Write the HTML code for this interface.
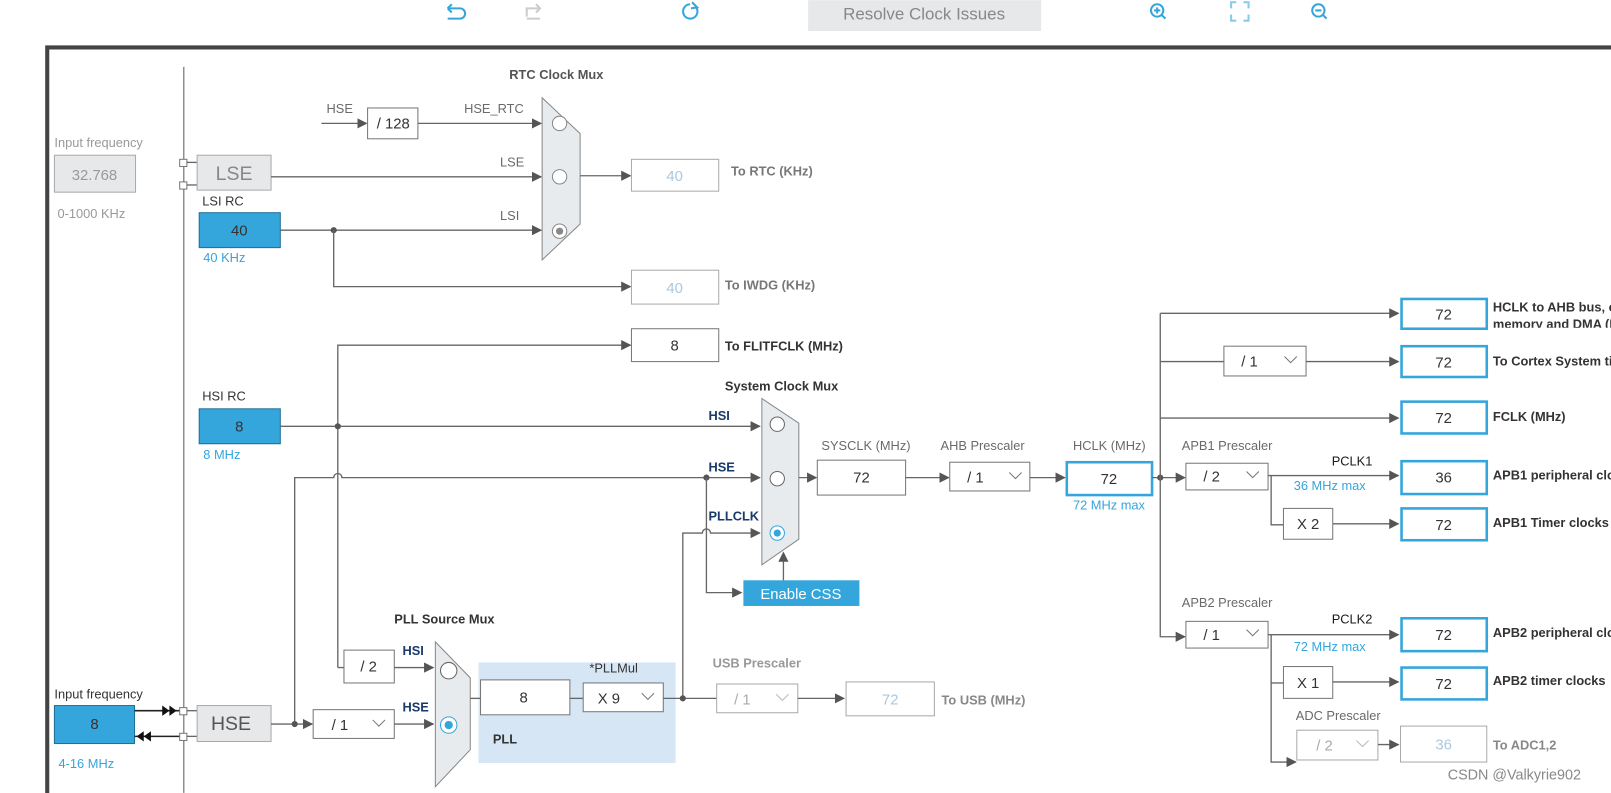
<!DOCTYPE html>
<html><head><meta charset="utf-8"><style>
html,body{margin:0;padding:0;background:#fff;width:1611px;height:793px;overflow:hidden}
svg{display:block}
text{font-family:"Liberation Sans",sans-serif}
.l{font-size:12.5px;fill:#6a6a6a}
.b{font-size:12.5px;fill:#333;font-weight:bold}
.g{font-size:12.5px;fill:#999}
.bl{font-size:12.5px;fill:#34a6dc}
.v{font-size:14.5px;fill:#333;text-anchor:middle}
.vg{font-size:14.5px;fill:#a9c8e0;text-anchor:middle}
.ln{stroke:#666;stroke-width:1.3;fill:none}
.bx{fill:#fff;stroke:#777;stroke-width:1}
.bb{fill:#fff;stroke:#34a6dc;stroke-width:2.5}
.gb{fill:#fff;stroke:#aaa;stroke-width:1}
</style></head><body>
<svg width="1611" height="793" viewBox="0 0 1569 772" xmlns="http://www.w3.org/2000/svg">
<defs>
<marker id="a" markerWidth="10" markerHeight="10" refX="9" refY="5" orient="auto" markerUnits="userSpaceOnUse"><path d="M0,0 L10,5 L0,10 Z" fill="#555"/></marker>
</defs>
<g stroke="#34a6dc" stroke-width="2" fill="none">
<path d="M436,8 h12 a5,5 0 0 1 0,10 h-12 M436,8 l4,-4 M436,8 l4,4"/>
<path d="M672,4 a7,7 0 1 0 6,3" /><path d="M674,2 l5,5 l-6,1"/>
<circle cx="1127" cy="10" r="6"/><path d="M1131,14 l4,4 M1124,10 h6 M1127,7 v6"/>
<circle cx="1284" cy="10" r="6"/><path d="M1288,14 l4,4 M1281,10 h6"/>
<path d="M1199,8 v-6 h5 M1211,2 h5 v6 M1216,14 v6 h-5 M1204,20 h-5 v-6" stroke="#8cc8ea"/>
</g>
<path d="M513,16 v-8 h13 M522,4 l4,4 l-4,4 M513,18 h13" stroke="#ccc" stroke-width="2" fill="none"/>
<rect x="787" y="0" width="227" height="30" fill="#e6e8ea"/>
<text x="900" y="19" font-size="16.5" fill="#888" text-anchor="middle">Resolve Clock Issues</text>
<path d="M46,793 V46 H1569" stroke="#444" stroke-width="4" fill="none"/>
<line x1="179" y1="65" x2="179" y2="772" stroke="#777" stroke-width="1.2"/>

<text x="53" y="143" class="g">Input frequency</text>
<rect x="53" y="151" width="79" height="36" fill="#e6e8ea" stroke="#aaa"/>
<text x="92" y="175" class="v" style="fill:#999">32.768</text>
<text x="56" y="212" class="g">0-1000 KHz</text>
<rect x="175" y="155" width="7" height="7" fill="#fff" stroke="#777"/>
<rect x="175" y="177" width="7" height="7" fill="#fff" stroke="#777"/>
<line x1="182" y1="158" x2="192" y2="158" class="ln"/><line x1="182" y1="180" x2="192" y2="180" class="ln"/>
<rect x="192" y="151" width="72" height="34" fill="#e6e8ea" stroke="#aaa"/>
<text x="228" y="175" font-size="19" fill="#888" text-anchor="middle">LSE</text>

<text x="318" y="110" class="l">HSE</text>
<line x1="313" y1="120" x2="357" y2="120" class="ln" marker-end="url(#a)"/>
<rect x="358" y="105" width="49" height="30" class="bx"/>
<text x="383" y="125" class="v">/ 128</text>
<text x="452" y="110" class="l">HSE_RTC</text>
<line x1="407" y1="120" x2="527" y2="120" class="ln" marker-end="url(#a)"/>
<text x="487" y="162" class="l">LSE</text>
<line x1="264" y1="172" x2="527" y2="172" class="ln" marker-end="url(#a)"/>
<text x="487" y="214" class="l">LSI</text>
<text x="496" y="77" class="b" style="fill:#555">RTC Clock Mux</text>
<polygon points="528,95 565,130 565,218 528,253" fill="#e8ebee" stroke="#888"/>
<circle cx="545" cy="120" r="7" fill="#fff" stroke="#888"/>
<circle cx="545" cy="172" r="7" fill="#fff" stroke="#888"/>
<circle cx="545" cy="225" r="7" fill="#fff" stroke="#888"/><circle cx="545" cy="225" r="3.5" fill="#888"/>

<text x="197" y="200" style="font-size:12.5px;fill:#333">LSI RC</text>
<rect x="194" y="207" width="79" height="34" fill="#34a6dc" stroke="#1f6f98"/>
<text x="233" y="229" class="v">40</text>
<text x="198" y="255" class="bl">40 KHz</text>
<line x1="273" y1="224" x2="527" y2="224" class="ln" marker-end="url(#a)"/>
<circle cx="325" cy="224" r="3" fill="#555"/>
<path d="M325,224 V279 H614" class="ln" marker-end="url(#a)"/>
<line x1="565" y1="171" x2="614" y2="171" class="ln" marker-end="url(#a)"/>
<rect x="615" y="155" width="85" height="31" class="gb"/>
<text x="657" y="176" class="vg">40</text>
<text x="712" y="171" class="b" style="fill:#777">To RTC (KHz)</text>
<rect x="615" y="263" width="85" height="33" class="gb"/>
<text x="657" y="285" class="vg">40</text>
<text x="706" y="282" class="b" style="fill:#777">To IWDG (KHz)</text>

<rect x="615" y="320" width="85" height="32" class="bx"/>
<text x="657" y="341" class="v">8</text>
<text x="706" y="341" class="b">To FLITFCLK (MHz)</text>
<path d="M329,650 V336 H614" class="ln" marker-end="url(#a)"/>
<text x="197" y="390" style="font-size:12.5px;fill:#333">HSI RC</text>
<rect x="194" y="398" width="79" height="34" fill="#34a6dc" stroke="#1f6f98"/>
<text x="233" y="420" class="v">8</text>
<text x="198" y="447" class="bl">8 MHz</text>
<line x1="273" y1="415" x2="740" y2="415" class="ln" marker-end="url(#a)"/>
<circle cx="329" cy="415" r="3" fill="#555"/>
<path d="M287,705 V465 H325 a4,4 0 0 1 8,0 H740" class="ln" marker-end="url(#a)"/>
<text x="690" y="409" class="b" style="fill:#1a3a6a">HSI</text>
<text x="690" y="459" class="b" style="fill:#1a3a6a">HSE</text>
<text x="690" y="507" class="b" style="fill:#1a3a6a">PLLCLK</text>
<text x="706" y="380" class="b">System Clock Mux</text>
<polygon points="742,388 778,412 778,525 742,550" fill="#e8ebee" stroke="#888"/>
<circle cx="757" cy="413" r="7" fill="#fff" stroke="#666"/>
<circle cx="757" cy="466" r="7" fill="#fff" stroke="#666"/>
<circle cx="757" cy="519" r="7" fill="#fff" stroke="#34a6dc"/><circle cx="757" cy="519" r="3.5" fill="#34a6dc"/>
<path d="M665,680 V519 H684 a4,4 0 0 1 8,0 H740" class="ln" marker-end="url(#a)"/>
<circle cx="688" cy="465" r="3" fill="#555"/>
<path d="M688,465 V577 H722" class="ln" marker-end="url(#a)"/>
<rect x="724" y="565" width="113" height="25" fill="#34a6dc"/>
<text x="780" y="583" font-size="14.5" fill="#fff" text-anchor="middle">Enable CSS</text>
<line x1="763" y1="565" x2="763" y2="538" class="ln" marker-end="url(#a)"/>

<line x1="778" y1="465" x2="795" y2="465" class="ln" marker-end="url(#a)"/>
<text x="800" y="438" class="l">SYSCLK (MHz)</text>
<rect x="796" y="448" width="86" height="34" class="bx"/>
<text x="839" y="470" class="v">72</text>
<line x1="882" y1="465" x2="924" y2="465" class="ln" marker-end="url(#a)"/>
<text x="916" y="438" class="l">AHB Prescaler</text>
<rect x="925" y="450" width="78" height="28" class="bx"/>
<text x="950" y="470" class="v">/ 1</text><path d="M983,460 l6,6 l6,-6" stroke="#777" fill="none"/>
<line x1="1003" y1="465" x2="1037" y2="465" class="ln" marker-end="url(#a)"/>
<text x="1045" y="438" class="l">HCLK (MHz)</text>
<rect x="1039" y="450" width="83" height="32" class="bb"/>
<text x="1080" y="471" class="v">72</text>
<text x="1045" y="496" class="bl">72 MHz max</text>

<line x1="1122" y1="465" x2="1154" y2="465" class="ln" marker-end="url(#a)"/>
<circle cx="1130" cy="465" r="3" fill="#555"/>
<path d="M1130,305 V620 H1154" class="ln" marker-end="url(#a)"/>
<line x1="1130" y1="305" x2="1362" y2="305" class="ln" marker-end="url(#a)"/>
<line x1="1130" y1="352" x2="1192" y2="352" class="ln"/>
<rect x="1192" y="337" width="80" height="29" class="bx"/>
<text x="1217" y="357" class="v">/ 1</text><path d="M1251,347 l6,6 l6,-6" stroke="#777" fill="none"/>
<line x1="1272" y1="352" x2="1362" y2="352" class="ln" marker-end="url(#a)"/>
<line x1="1130" y1="407" x2="1362" y2="407" class="ln" marker-end="url(#a)"/>

<rect x="1365" y="291" width="83" height="29" class="bb"/><text x="1406" y="311" class="v">72</text>
<rect x="1365" y="337" width="83" height="30" class="bb"/><text x="1406" y="358" class="v">72</text>
<rect x="1365" y="391" width="83" height="31" class="bb"/><text x="1406" y="412" class="v">72</text>
<text x="1454" y="303" class="b">HCLK to AHB bus, core,</text>
<svg x="1450" y="305" width="130" height="14" overflow="hidden"><text x="4" y="15" class="b">memory and DMA (MHz)</text></svg>
<text x="1454" y="356" class="b">To Cortex System timer</text>
<text x="1454" y="410" class="b">FCLK (MHz)</text>

<text x="1151" y="438" class="l">APB1 Prescaler</text>
<rect x="1155" y="451" width="80" height="26" class="bx"/>
<text x="1180" y="469" class="v">/ 2</text><path d="M1214,459 l6,6 l6,-6" stroke="#777" fill="none"/>
<line x1="1235" y1="463" x2="1362" y2="463" class="ln" marker-end="url(#a)"/>
<text x="1297" y="453" style="font-size:12.5px;fill:#1a1a1a">PCLK1</text>
<text x="1260" y="477" class="bl">36 MHz max</text>
<rect x="1365" y="449" width="83" height="32" class="bb"/><text x="1406" y="470" class="v">36</text>
<text x="1454" y="467" class="b">APB1 peripheral clocks</text>
<path d="M1238,463 V511 H1250" class="ln"/>
<rect x="1250" y="495" width="48" height="30" class="bx"/><text x="1274" y="515" class="v">X 2</text>
<line x1="1298" y1="510" x2="1362" y2="510" class="ln" marker-end="url(#a)"/>
<rect x="1365" y="495" width="83" height="31" class="bb"/><text x="1406" y="516" class="v">72</text>
<text x="1454" y="513" class="b">APB1 Timer clocks</text>

<text x="1151" y="591" class="l">APB2 Prescaler</text>
<rect x="1155" y="605" width="80" height="26" class="bx"/>
<text x="1180" y="623" class="v">/ 1</text><path d="M1214,613 l6,6 l6,-6" stroke="#777" fill="none"/>
<line x1="1235" y1="618" x2="1362" y2="618" class="ln" marker-end="url(#a)"/>
<text x="1297" y="607" style="font-size:12.5px;fill:#1a1a1a">PCLK2</text>
<text x="1260" y="634" class="bl">72 MHz max</text>
<rect x="1365" y="602" width="83" height="32" class="bb"/><text x="1406" y="623" class="v">72</text>
<text x="1454" y="620" class="b">APB2 peripheral clocks</text>
<path d="M1238,618 V742 H1262" class="ln" marker-end="url(#a)"/>
<line x1="1238" y1="665" x2="1250" y2="665" class="ln"/>
<rect x="1250" y="649" width="48" height="31" class="bx"/><text x="1274" y="670" class="v">X 1</text>
<line x1="1298" y1="664" x2="1362" y2="664" class="ln" marker-end="url(#a)"/>
<rect x="1365" y="650" width="83" height="31" class="bb"/><text x="1406" y="671" class="v">72</text>
<text x="1454" y="667" class="b">APB2 timer clocks</text>
<text x="1262" y="701" class="l">ADC Prescaler</text>
<rect x="1263" y="711" width="79" height="29" class="gb"/>
<text x="1290" y="731" class="vg" style="fill:#aaa">/ 2</text><path d="M1321,721 l6,6 l6,-6" stroke="#bbb" fill="none"/>
<line x1="1342" y1="725" x2="1362" y2="725" class="ln" marker-end="url(#a)"/>
<rect x="1364" y="707" width="84" height="35" class="gb"/><text x="1406" y="730" class="vg">36</text>
<text x="1454" y="730" class="b" style="fill:#888">To ADC1,2</text>
<text x="1410" y="759" font-size="14" fill="#888">CSDN @Valkyrie902</text>

<text x="53" y="680" style="font-size:12.5px;fill:#333">Input frequency</text>
<rect x="53" y="687" width="78" height="37" fill="#34a6dc" stroke="#1f6f98"/>
<text x="92" y="710" class="v">8</text>
<text x="57" y="748" class="bl">4-16 MHz</text>
<line x1="131" y1="692" x2="175" y2="692" stroke="#222" stroke-width="1.5"/>
<path d="M158,687 l7,5 l-7,5Z M165,687 l7,5 l-7,5Z" fill="#111"/>
<line x1="131" y1="717" x2="175" y2="717" stroke="#222" stroke-width="1.5"/>
<path d="M140,712 l-7,5 l7,5Z M147,712 l-7,5 l7,5Z" fill="#111"/>
<rect x="175" y="689" width="7" height="7" fill="#fff" stroke="#777"/>
<rect x="175" y="714" width="7" height="7" fill="#fff" stroke="#777"/>
<line x1="182" y1="692" x2="192" y2="692" class="ln"/><line x1="182" y1="717" x2="192" y2="717" class="ln"/>
<rect x="192" y="687" width="72" height="35" fill="#e6e8ea" stroke="#aaa"/>
<text x="225" y="711" font-size="19" fill="#555" text-anchor="middle">HSE</text>
<line x1="264" y1="705" x2="304" y2="705" class="ln" marker-end="url(#a)"/>
<circle cx="287" cy="705" r="3" fill="#555"/>
<rect x="305" y="691" width="79" height="28" class="bx"/>
<text x="331" y="711" class="v">/ 1</text><path d="M363,701 l6,6 l6,-6" stroke="#777" fill="none"/>
<path d="M329,650 H335" class="ln"/>
<rect x="335" y="633" width="49" height="32" class="bx"/><text x="359" y="654" class="v">/ 2</text>
<line x1="384" y1="650" x2="422" y2="650" class="ln" marker-end="url(#a)"/>
<line x1="384" y1="705" x2="422" y2="705" class="ln" marker-end="url(#a)"/>
<text x="392" y="638" class="b" style="fill:#1a3a6a">HSI</text>
<text x="392" y="693" class="b" style="fill:#1a3a6a">HSE</text>
<text x="384" y="607" class="b">PLL Source Mux</text>
<polygon points="424,625 458,660 458,730 424,766" fill="#e8ebee" stroke="#888"/>
<circle cx="437" cy="653" r="8" fill="#fff" stroke="#666"/>
<circle cx="437" cy="706" r="8" fill="#fff" stroke="#34a6dc"/><circle cx="437" cy="706" r="4" fill="#34a6dc"/>
<rect x="466" y="645" width="192" height="98" fill="#d6e6f5"/>
<line x1="458" y1="680" x2="468" y2="680" class="ln"/>
<rect x="468" y="662" width="87" height="34" class="bx"/><text x="510" y="684" class="v">8</text>
<line x1="555" y1="680" x2="568" y2="680" class="ln"/>
<text x="574" y="655" style="font-size:12.5px;fill:#333">*PLLMul</text>
<rect x="568" y="665" width="78" height="28" class="bx"/>
<text x="593" y="685" class="v">X 9</text><path d="M625,675 l6,6 l6,-6" stroke="#777" fill="none"/>
<text x="480" y="724" style="font-size:12.5px;fill:#333;font-weight:bold">PLL</text>
<line x1="646" y1="680" x2="698" y2="680" class="ln"/>
<circle cx="665" cy="680" r="3" fill="#555"/>
<text x="694" y="650" class="b" style="fill:#999">USB Prescaler</text>
<rect x="698" y="666" width="79" height="28" class="gb"/>
<text x="723" y="686" class="vg" style="fill:#aaa">/ 1</text><path d="M756,676 l6,6 l6,-6" stroke="#bbb" fill="none"/>
<line x1="777" y1="680" x2="822" y2="680" class="ln" marker-end="url(#a)"/>
<rect x="824" y="664" width="86" height="33" class="gb"/><text x="867" y="686" class="vg">72</text>
<text x="917" y="686" class="b" style="fill:#888">To USB (MHz)</text>
</svg>
</body></html>
